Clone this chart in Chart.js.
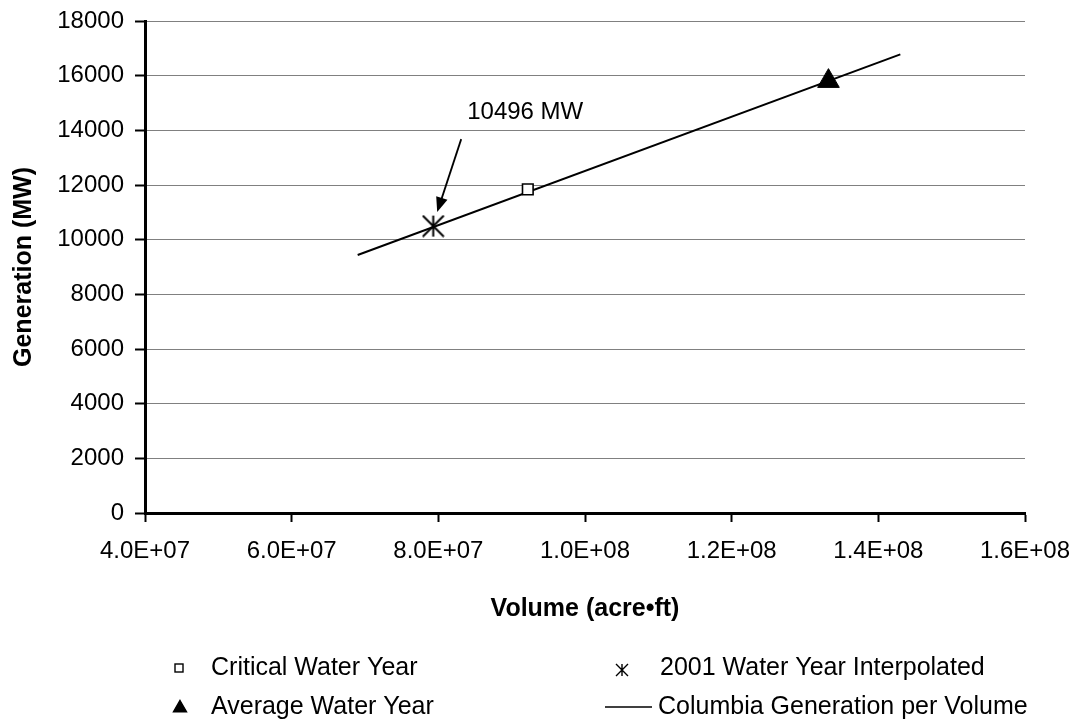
<!DOCTYPE html>
<html>
<head>
<meta charset="utf-8">
<script src="https://cdn.jsdelivr.net/npm/chart.js@4.4.1/dist/chart.umd.min.js"></script>
<style>
  html, body { margin: 0; padding: 0; background: #fff; }
  #wrap { width: 1085px; height: 727px; }
</style>
</head>
<body>
<div id="wrap"><canvas id="genChart" width="1085" height="727"></canvas></div>
<script>
// line: Columbia generation per volume (two end points)
var lineVolume = [6.9e7, 1.43e8];
var lineGeneration = [9440, 16780];
// single markers
var criticalVolume = [9.22e7];
var criticalGeneration = [11840];
var interpVolume = [7.93e7];
var interpGeneration = [10496];
var averageVolume = [1.332e8];
var averageGeneration = [15800];

var seriesNames = [
    'Critical Water Year',
    '2001 Water Year Interpolated',
    'Average Water Year',
    'Columbia Generation per Volume'
];

var FONT = '"Liberation Sans", Arial, sans-serif';

function toPoints(xs, ys) {
    return xs.map(function (x, i) { return {x: x, y: ys[i]}; });
}

// asterisk marker: an X plus a vertical bar
function makeAsterisk(size, lw) {
    var c = document.createElement('canvas');
    c.width = size; c.height = size;
    var g = c.getContext('2d');
    var m = size / 2, r = size / 2 - 1;
    g.strokeStyle = '#000';
    g.lineWidth = lw;
    g.beginPath();
    g.moveTo(m - r, m - r); g.lineTo(m + r, m + r);
    g.moveTo(m - r, m + r); g.lineTo(m + r, m - r);
    g.moveTo(m, m - r); g.lineTo(m, m + r);
    g.stroke();
    return c;
}
var asteriskBig = makeAsterisk(23, 2);
var asteriskSmall = makeAsterisk(14, 1.4);

function sciLabel(v) {
    var e = Math.floor(Math.log10(v) + 1e-9);
    var m = v / Math.pow(10, e);
    return m.toFixed(1) + 'E+' + String(e).padStart(2, '0');
}

// arrow + "10496 MW" note pointing at the interpolated point
var notePlugin = {
    id: 'note',
    afterDatasetsDraw: function (chart) {
        var ctx = chart.ctx;
        var px = chart.scales.x.getPixelForValue(interpVolume[0]);
        var py = chart.scales.y.getPixelForValue(interpGeneration[0]);
        var x0 = px + 28, y0 = py - 87, x1 = px + 4, y1 = py - 14;
        var ang = Math.atan2(y1 - y0, x1 - x0);
        ctx.save();
        ctx.strokeStyle = '#000';
        ctx.fillStyle = '#000';
        ctx.lineWidth = 1.8;
        ctx.beginPath();
        ctx.moveTo(x0, y0);
        ctx.lineTo(x1 - 10 * Math.cos(ang), y1 - 10 * Math.sin(ang));
        ctx.stroke();
        ctx.beginPath();
        ctx.moveTo(x1, y1);
        ctx.lineTo(x1 - 16 * Math.cos(ang - 0.38), y1 - 16 * Math.sin(ang - 0.38));
        ctx.lineTo(x1 - 16 * Math.cos(ang + 0.38), y1 - 16 * Math.sin(ang + 0.38));
        ctx.closePath();
        ctx.fill();
        ctx.font = '24px ' + FONT;
        ctx.textBaseline = 'middle';
        ctx.textAlign = 'left';
        ctx.fillText(interpGeneration[0] + ' MW', px + 34, py - 114);
        ctx.restore();
    }
};

// two-column legend under the x axis title
var legendPlugin = {
    id: 'legend2col',
    afterDraw: function (chart) {
        var ctx = chart.ctx;
        ctx.save();
        ctx.font = '25px ' + FONT;
        ctx.textBaseline = 'middle';
        ctx.fillStyle = '#000';
        ctx.strokeStyle = '#000';
        var r1 = 668, r2 = 707;
        // square
        ctx.lineWidth = 1.4;
        ctx.strokeRect(175, r1 - 4, 8, 8);
        ctx.fillText(seriesNames[0], 211, r1);
        // triangle
        Chart.helpers.drawPoint(ctx, {pointStyle: 'triangle', radius: 7.5, borderWidth: 1}, 180, r2 + 1);
        ctx.fill();
        ctx.fillText(seriesNames[2], 211, r2);
        // asterisk
        ctx.drawImage(asteriskSmall, 622 - 7, r1 - 5);
        ctx.fillText(seriesNames[1], 660, r1);
        // line
        ctx.lineWidth = 1.5;
        ctx.beginPath();
        ctx.moveTo(605, r2);
        ctx.lineTo(652, r2);
        ctx.stroke();
        ctx.fillText(seriesNames[3], 658, r2);
        ctx.restore();
    }
};

var genChartCanvas = document.getElementById('genChart');
var genChart = new Chart(genChartCanvas, {
    type: 'scatter',
    data: {
        datasets: [
            {
                label: seriesNames[3],
                data: toPoints(lineVolume, lineGeneration),
                showLine: true,
                borderColor: '#000',
                borderWidth: 2,
                pointRadius: 0,
                order: 2
            },
            {
                label: seriesNames[0],
                data: toPoints(criticalVolume, criticalGeneration),
                pointStyle: 'rect',
                pointRadius: 7.5,
                pointBorderWidth: 1.6,
                pointBorderColor: '#000',
                pointBackgroundColor: '#fff',
                order: 1
            },
            {
                label: seriesNames[1],
                data: toPoints(interpVolume, interpGeneration),
                pointStyle: asteriskBig,
                pointRadius: 12,
                order: 1
            },
            {
                label: seriesNames[2],
                data: toPoints(averageVolume, averageGeneration),
                pointStyle: 'triangle',
                pointRadius: 12.5,
                pointBorderWidth: 1,
                pointBorderColor: '#000',
                pointBackgroundColor: '#000',
                order: 1
            }
        ]
    },
    options: {
        responsive: false,
        animation: false,
        events: [],
        layout: {
            padding: {top: 21, right: 60, bottom: 103, left: 0}
        },
        plugins: {
            legend: {display: false},
            tooltip: {enabled: false}
        },
        scales: {
            x: {
                type: 'linear',
                min: 4e7,
                max: 1.6e8,
                afterFit: function (scale) {
                    scale.height = 111;
                    scale.paddingLeft = 0;
                    scale.paddingRight = 0;
                },
                ticks: {
                    stepSize: 2e7,
                    color: '#000',
                    padding: 15,
                    font: {family: FONT, size: 24},
                    maxRotation: 0,
                    autoSkip: false,
                    callback: function (v) { return sciLabel(v); }
                },
                grid: {
                    color: 'rgba(0,0,0,0)',
                    tickColor: '#000',
                    tickLength: 9,
                    tickWidth: 2
                },
                border: {color: '#000', width: 3},
                title: {
                    display: true,
                    text: 'Volume (acre\u2022ft)',
                    color: '#000',
                    font: {family: FONT, size: 25, weight: 'bold'},
                    padding: {top: 0, bottom: 0}
                }
            },
            y: {
                min: 0,
                max: 18000,
                afterFit: function (scale) {
                    scale.width = 145;
                    scale.paddingTop = 0;
                    scale.paddingBottom = 0;
                },
                ticks: {
                    stepSize: 2000,
                    color: '#000',
                    padding: 11,
                    font: {family: FONT, size: 24},
                    callback: function (v) { return String(v); }
                },
                grid: {
                    color: '#808080',
                    lineWidth: 1,
                    tickColor: '#000',
                    tickLength: 10,
                    tickWidth: 2
                },
                border: {color: '#000', width: 3},
                title: {
                    display: true,
                    text: 'Generation (MW)',
                    color: '#000',
                    font: {family: FONT, size: 25, weight: 'bold'},
                    padding: {top: 9, bottom: 0}
                }
            }
        }
    },
    plugins: [notePlugin, legendPlugin]
});
</script>
</body>
</html>
